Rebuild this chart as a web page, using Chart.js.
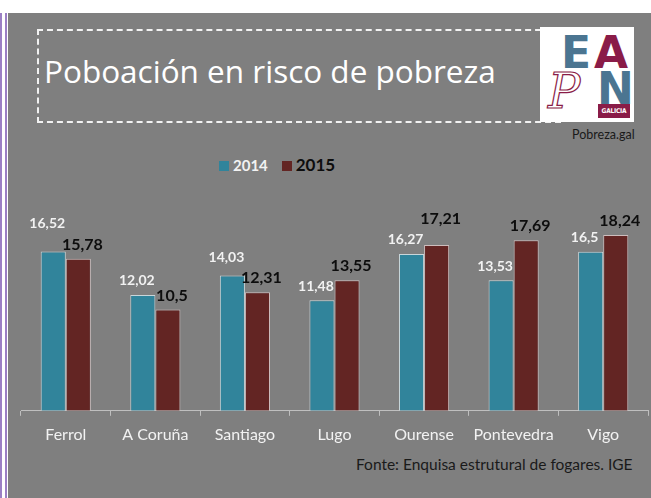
<!DOCTYPE html>
<html>
<head>
<meta charset="utf-8">
<script src="https://cdn.jsdelivr.net/npm/chart.js@4.4.0/dist/chart.umd.min.js"></script>
<style>
  html, body { margin: 0; padding: 0; background: #fff; }
  body { width: 651px; height: 498px; position: relative; overflow: hidden; font-family: Lato, "Open Sans", sans-serif; }
  .frame-l1 { position: absolute; left: 0; top: 13px; width: 2px; height: 485px; background: #9b7fc4; }
  .frame-l2 { position: absolute; left: 5px; top: 13px; width: 2px; height: 485px; background: #9b7fc4; }
  .panel { position: absolute; left: 8px; top: 13px; width: 643px; height: 485px; background: #7f7f7f; }
  .titlebox { position: absolute; left: 37px; top: 29px; width: 520px; height: 90px; border: 2px dashed #f2f2f2; }
  .title { position: absolute; left: 44px; top: 49px; font-family: "Open Sans", sans-serif; font-size: 31.5px; color: #fff; white-space: nowrap; }
  .logo { position: absolute; left: 540px; top: 27px; width: 94px; height: 95px; background: #fff; }
  .logo span { position: absolute; font-family: "DejaVu Sans", sans-serif; font-weight: bold; line-height: 1; }
  .credit { position: absolute; left: 572px; top: 127px; font-size: 12.5px; color: #1a1a1a; }
  .legend { position: absolute; top: 154px; left: 219px; font-weight: bold; white-space: nowrap; }
  .legend i { display: inline-block; width: 10px; height: 10px; vertical-align: 0px; margin-right: 4px; }
  .source { position: absolute; left: 356px; top: 455px; font-size: 15.5px; color: #1a1a1a; white-space: nowrap; }
  canvas { position: absolute; left: 8px; top: 13px; }
</style>
</head>
<body>
<div class="frame-l1"></div>
<div class="frame-l2"></div>
<div class="panel"></div>
<div class="titlebox"></div>
<div class="title">Poboación en risco de pobreza</div>
<div class="logo">
  <span style="left:21px;top:4px;font-size:44px;color:#4b7591;">E</span>
  <span style="left:54px;top:4px;font-size:44px;color:#8a1c48;">A</span>
  <span style="left:8px;top:40px;font-size:48px;font-family:'DejaVu Serif',serif;font-style:italic;font-weight:normal;color:transparent;-webkit-text-stroke:1.2px #8a1c48;">P</span>
  <span style="left:57px;top:40px;font-size:44px;color:#4b7591;">N</span>
  <span style="left:58px;top:77px;width:32px;height:14px;background:#8a1c48;color:#fff;font-family:'DejaVu Sans Condensed','DejaVu Sans',sans-serif;font-size:6.5px;line-height:14px;text-align:center;letter-spacing:-0.2px;">GALICIA</span>
</div>
<div class="credit">Pobreza.gal</div>
<div class="legend">
  <i style="background:#31849b;"></i><span style="color:#f2f2f2;font-size:15px;">2014</span>
  <i style="background:#632523;margin-left:10px;"></i><span style="color:#0d0d0d;font-size:17px;">2015</span>
</div>
<canvas id="chart" width="643" height="440"></canvas>
<div class="source">Fonte: Enquisa estrutural de fogares. IGE</div>
<script>
// Poboación en risco de pobreza por cidade (%), 2014 vs 2015
const cities = ['Ferrol', 'A Coruña', 'Santiago', 'Lugo', 'Ourense', 'Pontevedra', 'Vigo'];
const years = ['2014', '2015'];
const values2014 = [16.52, 12.02, 14.03, 11.48, 16.27, 13.53, 16.5];
const values2015 = [15.78, 10.5, 12.31, 13.55, 17.21, 17.69, 18.24];

const fmt = v => String(v).replace('.', ',');

// value labels above each bar (2014 light, 2015 dark). When the two labels of a
// city collide, the taller bar's label is lifted above the other one.
const barLabels = {
  id: 'barLabels',
  afterDatasetsDraw(chart) {
    const ctx = chart.ctx;
    const styles = [
      { color: '#f2f2f2', font: 'bold 14px Lato', dx: -6, h: 14 },
      { color: '#0d0d0d', font: 'bold 16px Lato', dx: 4, h: 16 },
    ];
    const m0 = chart.getDatasetMeta(0).data;
    const m1 = chart.getDatasetMeta(1).data;
    const d0 = chart.data.datasets[0].data;
    const d1 = chart.data.datasets[1].data;
    ctx.save();
    ctx.textAlign = 'center';
    ctx.textBaseline = 'middle';
    m0.forEach((b0, j) => {
      const b1 = m1[j];
      const items = [
        { s: styles[0], x: b0.x + styles[0].dx, y: b0.y - 14, t: fmt(d0[j]) },
        { s: styles[1], x: b1.x + styles[1].dx, y: b1.y - 14, t: fmt(d1[j]) },
      ];
      items.forEach(it => { ctx.font = it.s.font; it.w = ctx.measureText(it.t).width; });
      const [a, b] = items;
      const overlapX = a.x + a.w / 2 > b.x - b.w / 2;
      const overlapY = Math.abs(a.y - b.y) < (a.s.h + b.s.h) / 2 + 2;
      if (overlapX && overlapY) {
        if (d0[j] >= d1[j]) a.y = b.y - (a.s.h + b.s.h) / 2 - 6;
        else b.y = a.y - (a.s.h + b.s.h) / 2 - 6;
      }
      items.forEach(it => {
        ctx.font = it.s.font;
        ctx.fillStyle = it.s.color;
        ctx.fillText(it.t, it.x, it.y);
      });
    });
    ctx.restore();
  },
};

new Chart(document.getElementById('chart').getContext('2d'), {
  type: 'bar',
  data: {
    labels: cities,
    datasets: [
      { label: years[0], data: values2014, backgroundColor: '#31849b', borderColor: '#c9d6da', borderWidth: 1 },
      { label: years[1], data: values2015, backgroundColor: '#632523', borderColor: '#cdbdbd', borderWidth: 1 },
    ],
  },
  options: {
    responsive: false,
    animation: false,
    layout: { padding: { left: 13, right: 3, top: 205, bottom: 0 } },
    datasets: { bar: { categoryPercentage: 0.56, barPercentage: 1.0 } },
    plugins: { legend: { display: false }, tooltip: { enabled: false } },
    scales: {
      x: {
        border: { display: true, color: '#bfbfbf', width: 1 },
        grid: { offset: true, drawOnChartArea: false, drawTicks: true, tickLength: 5, color: '#bfbfbf' },
        ticks: { color: '#f2f2f2', font: { family: 'Lato', size: 16 }, padding: 9 },
      },
      y: { display: false, min: 0, max: 20 },
    },
  },
  plugins: [barLabels],
});
</script>
</body>
</html>
